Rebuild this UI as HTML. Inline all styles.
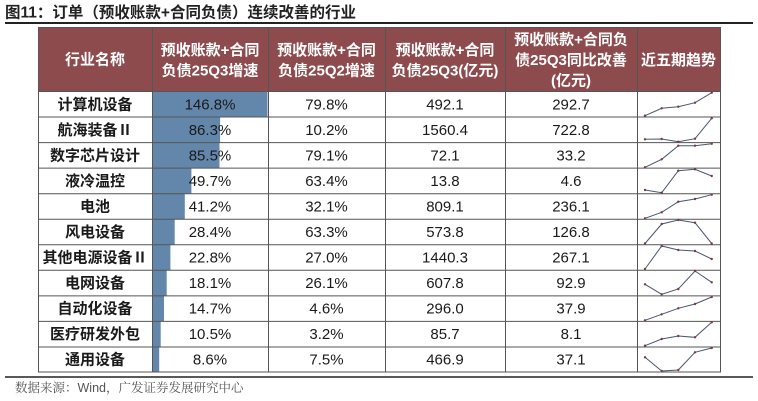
<!DOCTYPE html>
<html><head><meta charset="utf-8"><style>
html,body{margin:0;padding:0;background:#fff;width:758px;height:401px;overflow:hidden}
svg{display:block}
.t{font-family:"Liberation Sans","Noto Sans CJK SC",sans-serif}
</style></head><body>
<svg width="758" height="401" viewBox="0 0 758 401" xmlns="http://www.w3.org/2000/svg">
<rect width="758" height="401" fill="#fff"/>
<!-- title -->
<text x="5" y="17.5" class="t" font-size="15.5" font-weight="bold" fill="#222">图11：订单（预收账款+合同负债）连续改善的行业</text>
<line x1="5" y1="23" x2="753" y2="23" stroke="#222" stroke-width="2"/>
<!-- header -->
<rect x="38" y="27" width="682" height="64" fill="#8E4B4E"/>
<g class="t" font-size="15" font-weight="bold" fill="#fff" text-anchor="middle">
<text x="95" y="64.5">行业名称</text>
<text x="210" y="55">预收账款+合同</text>
<text x="210" y="75.5">负债25Q3增速</text>
<text x="326.5" y="55">预收账款+合同</text>
<text x="326.5" y="75.5">负债25Q2增速</text>
<text x="445" y="55">预收账款+合同</text>
<text x="445" y="75.5">负债25Q3(亿元)</text>
<text x="571" y="44.5">预收账款+合同负</text>
<text x="571" y="65">债25Q3同比改善</text>
<text x="571" y="85.5">(亿元)</text>
<text x="678.5" y="65">近五期趋势</text>
</g>
<!-- bars -->
<g fill="#6387AB">
<rect x="152.5" y="91.5" width="115" height="25.5"/>
<rect x="152.5" y="117" width="67.6" height="25.5"/>
<rect x="152.5" y="142.6" width="67" height="25.5"/>
<rect x="152.5" y="168.1" width="38.9" height="25.5"/>
<rect x="152.5" y="193.7" width="32.3" height="25.5"/>
<rect x="152.5" y="219.2" width="22.2" height="25.5"/>
<rect x="152.5" y="244.8" width="17.9" height="25.5"/>
<rect x="152.5" y="270.3" width="14.2" height="25.5"/>
<rect x="152.5" y="295.9" width="11.5" height="25.5"/>
<rect x="152.5" y="321.4" width="8.2" height="25.5"/>
<rect x="152.5" y="347" width="6.7" height="25"/>
</g>
<!-- categories -->
<g class="t" font-size="15" font-weight="bold" fill="#1a1a1a" text-anchor="middle">
<text x="95" y="109.5">计算机设备</text>
<text x="95" y="135">航海装备Ⅱ</text>
<text x="95" y="160.5">数字芯片设计</text>
<text x="95" y="186">液冷温控</text>
<text x="95" y="211.5">电池</text>
<text x="95" y="237">风电设备</text>
<text x="95" y="262.5">其他电源设备Ⅱ</text>
<text x="95" y="288">电网设备</text>
<text x="95" y="313.5">自动化设备</text>
<text x="95" y="339">医疗研发外包</text>
<text x="95" y="364.5">通用设备</text>
</g>
<!-- numbers -->
<g class="t" font-size="15" fill="#1a1a1a" text-anchor="middle">
<text x="210" y="109.5">146.8%</text><text x="326.5" y="109.5">79.8%</text><text x="445" y="109.5">492.1</text><text x="571" y="109.5">292.7</text>
<text x="210" y="135">86.3%</text><text x="326.5" y="135">10.2%</text><text x="445" y="135">1560.4</text><text x="571" y="135">722.8</text>
<text x="210" y="160.5">85.5%</text><text x="326.5" y="160.5">79.1%</text><text x="445" y="160.5">72.1</text><text x="571" y="160.5">33.2</text>
<text x="210" y="186">49.7%</text><text x="326.5" y="186">63.4%</text><text x="445" y="186">13.8</text><text x="571" y="186">4.6</text>
<text x="210" y="211.5">41.2%</text><text x="326.5" y="211.5">32.1%</text><text x="445" y="211.5">809.1</text><text x="571" y="211.5">236.1</text>
<text x="210" y="237">28.4%</text><text x="326.5" y="237">63.3%</text><text x="445" y="237">573.8</text><text x="571" y="237">126.8</text>
<text x="210" y="262.5">22.8%</text><text x="326.5" y="262.5">27.0%</text><text x="445" y="262.5">1440.3</text><text x="571" y="262.5">267.1</text>
<text x="210" y="288">18.1%</text><text x="326.5" y="288">26.1%</text><text x="445" y="288">607.8</text><text x="571" y="288">92.9</text>
<text x="210" y="313.5">14.7%</text><text x="326.5" y="313.5">4.6%</text><text x="445" y="313.5">296.0</text><text x="571" y="313.5">37.9</text>
<text x="210" y="339">10.5%</text><text x="326.5" y="339">3.2%</text><text x="445" y="339">85.7</text><text x="571" y="339">8.1</text>
<text x="210" y="364.5">8.6%</text><text x="326.5" y="364.5">7.5%</text><text x="445" y="364.5">466.9</text><text x="571" y="364.5">37.1</text>
</g>
<!-- grid -->
<g stroke="#555" stroke-width="1" fill="none">
<rect x="38.5" y="27.5" width="682" height="344.5"/>
<line x1="38" y1="91.5" x2="721" y2="91.5"/>
<line x1="38" y1="117" x2="721" y2="117"/>
<line x1="38" y1="142.6" x2="721" y2="142.6"/>
<line x1="38" y1="168.1" x2="721" y2="168.1"/>
<line x1="38" y1="193.7" x2="721" y2="193.7"/>
<line x1="38" y1="219.2" x2="721" y2="219.2"/>
<line x1="38" y1="244.8" x2="721" y2="244.8"/>
<line x1="38" y1="270.3" x2="721" y2="270.3"/>
<line x1="38" y1="295.9" x2="721" y2="295.9"/>
<line x1="38" y1="321.4" x2="721" y2="321.4"/>
<line x1="38" y1="347" x2="721" y2="347"/>
<line x1="152.5" y1="27" x2="152.5" y2="372"/>
<line x1="268.5" y1="27" x2="268.5" y2="372"/>
<line x1="385.5" y1="27" x2="385.5" y2="372"/>
<line x1="505.5" y1="27" x2="505.5" y2="372"/>
<line x1="637.5" y1="27" x2="637.5" y2="372"/>
</g>
<!-- sparklines -->
<g stroke="#4a5570" stroke-width="1" fill="none">
<polyline points="645,115.7 661.7,108.3 678.3,106.7 695,102.7 711.7,92.7"/>
<polyline points="645,139.3 661.7,139 678.3,141.7 695,138.7 711.7,118.3"/>
<polyline points="645,167.3 661.7,159.3 678.3,145.7 695,145.7 711.7,143.7"/>
<polyline points="645,190 661.7,192.7 678.3,170.7 695,169.3 711.7,176"/>
<polyline points="645,218.3 661.7,212.3 678.3,201.7 695,199 711.7,194.7"/>
<polyline points="645,243.5 661.7,224 678.3,220 695,222.7 711.7,243.5"/>
<polyline points="645,269 661.7,246 678.3,250 695,251 711.7,259"/>
<polyline points="645,284.3 661.7,294.3 678.3,289 695,271 711.7,282.3"/>
<polyline points="645,320.3 661.7,314.3 678.3,308.3 695,304 711.7,297"/>
<polyline points="645,345.7 661.7,339 678.3,336 695,337.3 711.7,322.3"/>
<polyline points="645,357.3 661.7,371 678.3,370 695,352.3 711.7,348"/>
</g>
<g fill="#7a3a3e">
<circle cx="645" cy="115.7" r="1.2"/><circle cx="661.7" cy="108.3" r="1.2"/><circle cx="678.3" cy="106.7" r="1.2"/><circle cx="695" cy="102.7" r="1.2"/><circle cx="711.7" cy="92.7" r="1.2"/>
<circle cx="645" cy="139.3" r="1.2"/><circle cx="661.7" cy="139" r="1.2"/><circle cx="678.3" cy="141.7" r="1.2"/><circle cx="695" cy="138.7" r="1.2"/><circle cx="711.7" cy="118.3" r="1.2"/>
<circle cx="645" cy="167.3" r="1.2"/><circle cx="661.7" cy="159.3" r="1.2"/><circle cx="678.3" cy="145.7" r="1.2"/><circle cx="695" cy="145.7" r="1.2"/><circle cx="711.7" cy="143.7" r="1.2"/>
<circle cx="645" cy="190" r="1.2"/><circle cx="661.7" cy="192.7" r="1.2"/><circle cx="678.3" cy="170.7" r="1.2"/><circle cx="695" cy="169.3" r="1.2"/><circle cx="711.7" cy="176" r="1.2"/>
<circle cx="645" cy="218.3" r="1.2"/><circle cx="661.7" cy="212.3" r="1.2"/><circle cx="678.3" cy="201.7" r="1.2"/><circle cx="695" cy="199" r="1.2"/><circle cx="711.7" cy="194.7" r="1.2"/>
<circle cx="645" cy="243.5" r="1.2"/><circle cx="661.7" cy="224" r="1.2"/><circle cx="678.3" cy="220" r="1.2"/><circle cx="695" cy="222.7" r="1.2"/><circle cx="711.7" cy="243.5" r="1.2"/>
<circle cx="645" cy="269" r="1.2"/><circle cx="661.7" cy="246" r="1.2"/><circle cx="678.3" cy="250" r="1.2"/><circle cx="695" cy="251" r="1.2"/><circle cx="711.7" cy="259" r="1.2"/>
<circle cx="645" cy="284.3" r="1.2"/><circle cx="661.7" cy="294.3" r="1.2"/><circle cx="678.3" cy="289" r="1.2"/><circle cx="695" cy="271" r="1.2"/><circle cx="711.7" cy="282.3" r="1.2"/>
<circle cx="645" cy="320.3" r="1.2"/><circle cx="661.7" cy="314.3" r="1.2"/><circle cx="678.3" cy="308.3" r="1.2"/><circle cx="695" cy="304" r="1.2"/><circle cx="711.7" cy="297" r="1.2"/>
<circle cx="645" cy="345.7" r="1.2"/><circle cx="661.7" cy="339" r="1.2"/><circle cx="678.3" cy="336" r="1.2"/><circle cx="695" cy="337.3" r="1.2"/><circle cx="711.7" cy="322.3" r="1.2"/>
<circle cx="645" cy="357.3" r="1.2"/><circle cx="661.7" cy="371" r="1.2"/><circle cx="678.3" cy="370" r="1.2"/><circle cx="695" cy="352.3" r="1.2"/><circle cx="711.7" cy="348" r="1.2"/>
</g>
<!-- bottom line & source -->
<line x1="5" y1="377" x2="753" y2="377" stroke="#222" stroke-width="1.6"/>
<text x="15" y="392" font-family="Liberation Sans, Noto Serif CJK SC, serif" font-size="12.5" fill="#555">数据来源：Wind，广发证券发展研究中心</text>
</svg>
</body></html>
